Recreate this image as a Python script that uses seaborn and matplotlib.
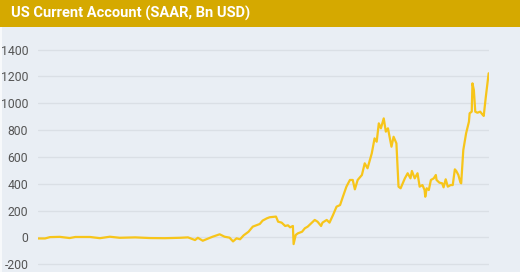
import matplotlib
matplotlib.use("Agg")
import matplotlib.pyplot as plt
import seaborn as sns
import pandas as pd
from matplotlib.patches import Rectangle

title = "US Current Account (SAAR, Bn USD)"
yticks = [-200, 0, 200, 400, 600, 800, 1000, 1200, 1400]

years = [1960.0, 1961.0, 1961.7, 1963.1, 1964.5, 1965.3, 1967.4, 1968.8, 1970.2, 1971.6,
         1973.8, 1975.9, 1978.0, 1980.2, 1981.3, 1982.3, 1982.7, 1983.4, 1984.0, 1984.8,
         1985.8, 1986.5, 1987.2, 1987.7, 1988.2, 1988.7, 1989.2, 1989.9, 1990.5, 1991.1,
         1991.5, 1991.9, 1992.5, 1992.9, 1993.8, 1994.1, 1994.6, 1995.1, 1995.5, 1995.8,
         1996.2, 1996.3, 1996.6, 1996.9, 1997.5, 1997.9, 1998.3, 1998.9, 1999.3, 1999.7,
         2000.2, 2000.4, 2001.0, 2001.4, 2001.9, 2002.4, 2002.9, 2003.3, 2003.8, 2004.3,
         2004.7, 2005.0, 2005.4, 2006.0, 2006.4, 2006.8, 2007.4, 2007.8, 2008.1, 2008.4,
         2008.7, 2009.1, 2009.4, 2009.7, 2010.2, 2010.5, 2010.9, 2011.2, 2011.5, 2012.1,
         2012.5, 2012.9, 2013.1, 2013.5, 2013.9, 2014.2, 2014.6, 2014.9, 2015.0, 2015.2,
         2015.5, 2015.8, 2016.2, 2016.5, 2016.6, 2017.0, 2017.4, 2017.6, 2017.9, 2018.2,
         2018.6, 2018.9, 2019.2, 2019.4, 2019.7, 2020.0, 2020.1, 2020.4, 2020.8, 2021.2,
         2021.3, 2021.6, 2021.7, 2021.9, 2022.1, 2022.4, 2022.8, 2023.1, 2023.3, 2023.6,
         2024.0]
values = [-8, -8, 2, 4, -5, 3, 3, -6, 5, -3,
          0, -5, -6, -3, 0, -20, -3, -25, -12, 5,
          23, 5, -2, -30, -7, -14, 15, 42, 80, 92,
          100, 125, 142, 150, 155, 117, 110, 85, 90, 75,
          85, -50, 18, 30, 42, 68, 80, 110, 130, 117,
          85, 110, 130, 110, 167, 229, 241, 303, 378, 428,
          428, 358, 428, 465, 552, 515, 626, 738, 713, 850,
          813, 887, 788, 813, 676, 750, 701, 378, 366, 440,
          478, 440, 495, 440, 478, 378, 390, 353, 303, 366,
          353, 428, 440, 465, 428, 408, 403, 373, 433, 378,
          390, 390, 507, 495, 465, 408, 403, 651, 776, 862,
          925, 937, 1148, 1098, 937, 929, 937, 917, 905, 1048,
          1223]

df = pd.DataFrame({"year": years, "value": values})

W, H = 520, 272
bg = "#E9EEF4"
sns.set_theme(style="white")
plt.rcParams["font.family"] = ["Roboto", "DejaVu Sans"]

fig = plt.figure(figsize=(W / 100, H / 100), dpi=100)
fig.patch.set_facecolor(bg)
# title bar
fig.patches.append(Rectangle((0, (H - 27) / H), 1, 27 / H, transform=fig.transFigure,
                             facecolor="#D5A900", edgecolor="none", zorder=0))
fig.patches.append(Rectangle((0, 0), 2 / W, (H - 27) / H, transform=fig.transFigure,
                             facecolor="#F7F9FB", edgecolor="none", zorder=0))
fig.text(11 / W, (H - 13.5) / H, title, color="white", fontsize=10.5, fontweight="bold",
         va="center", ha="left")

ax = fig.add_axes([38 / W, 0, (489 - 38) / W, (H - 27) / H])
ax.set_facecolor(bg)
sns.lineplot(data=df, x="year", y="value", ax=ax, color="#F7C51A", linewidth=1.6)
ax.set_xlim(1960, 2024.05)
ax.set_ylim(-258, 1568)
ax.set_yticks(yticks)
ax.set_yticklabels([str(t) for t in yticks], color="#555555", fontsize=8.8)
ax.set_xticks([])
ax.tick_params(axis="y", length=0, pad=7)
ax.grid(axis="y", color="#DADFE5", linewidth=1)
ax.set_axisbelow(True)
for s in ax.spines.values():
    s.set_visible(False)
ax.set_xlabel("")
ax.set_ylabel("")

fig.savefig("out.png", dpi=100, facecolor=bg)
